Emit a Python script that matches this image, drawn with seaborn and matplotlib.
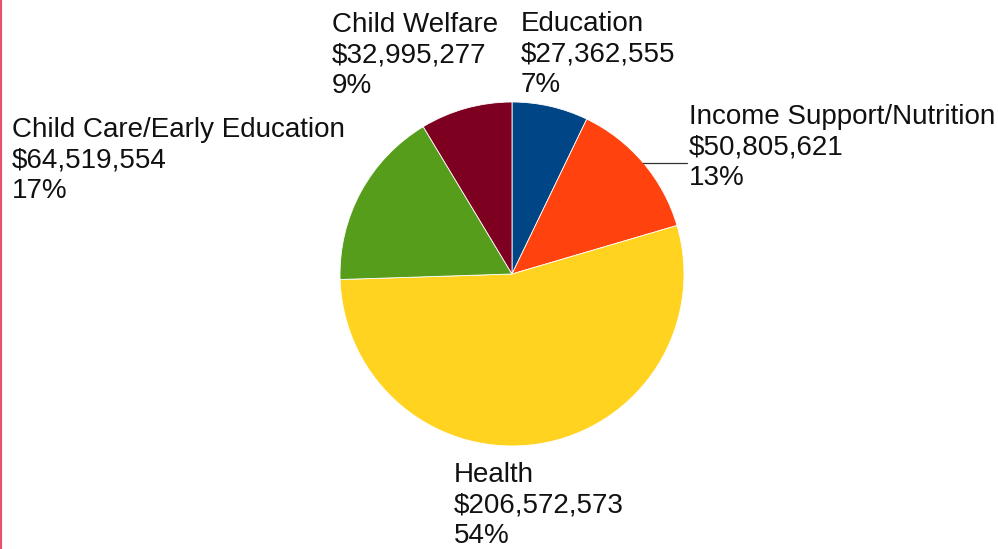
import matplotlib
matplotlib.use("Agg")
import matplotlib.pyplot as plt
import seaborn as sns
from matplotlib.lines import Line2D

categories = ["Education", "Income Support/Nutrition", "Health",
              "Child Care/Early Education", "Child Welfare"]
amounts = [27362555, 50805621, 206572573, 64519554, 32995277]
percent_labels = ["7%", "13%", "54%", "17%", "9%"]
colors = ["#004586", "#ff420e", "#ffd320", "#579d1c", "#7e0021"]

sns.set_theme(style="white")
plt.rcParams['font.family'] = ['Liberation Sans', 'DejaVu Sans']

W, H = 998, 549
fig = plt.figure(figsize=(W / 100, H / 100), dpi=100)
ax = fig.add_axes([0, 0, 1, 1])

cx, cy, r = 512, H - 274, 172
ax.pie(amounts, colors=colors, startangle=90, counterclock=False,
       center=(cx, cy), radius=r, frame=True,
       wedgeprops=dict(linewidth=0.6, edgecolor="white"))
ax.set_xlim(0, W)
ax.set_ylim(0, H)
ax.set_aspect("equal")
ax.axis("off")

# (left x, cap-top y) in pixels from top-left
label_pos = [(521, 11), (689, 104), (454, 462), (12, 117), (332, 12)]
for cat, amt, pct, (x, y) in zip(categories, amounts, percent_labels, label_pos):
    ax.text(x, H - y, f"{cat}\n${amt:,}\n{pct}", ha="left", va="top",
            fontsize=20, linespacing=1.22, color="#111111")

# leader line for Income Support/Nutrition
ax.add_line(Line2D([643, 687], [H - 163, H - 163], color="#333333", linewidth=0.9))

# red left border
fig.add_artist(Line2D([0.001, 0.001], [0, 1], color="#e8506a", linewidth=1.5,
                      transform=fig.transFigure))

fig.savefig("out.png", dpi=100, facecolor="white")
